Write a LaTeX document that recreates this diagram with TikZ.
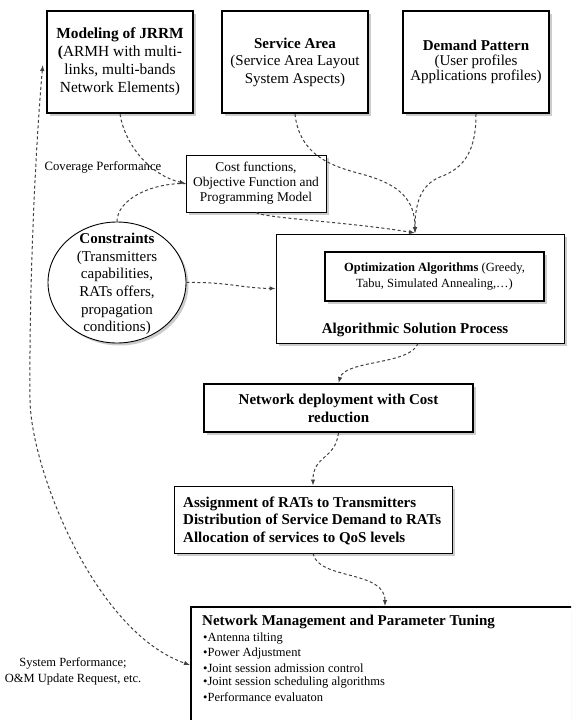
\documentclass[tikz,border=0pt]{standalone}
\usepackage{fontspec}
\setmainfont{Liberation Serif}
\usetikzlibrary{shapes.geometric,shadows,arrows.meta}
\newcommand\myfs[2]{\fontsize{#1}{#2}\selectfont}
\tikzset{
  shad/.style={drop shadow={shadow xshift=2.5pt,shadow yshift=-2.5pt,opacity=0.4}},
  thickbox/.style={draw=black, line width=2.4pt, fill=white, shad, align=center, inner sep=0pt},
  thinbox/.style={draw=black, line width=0.9pt, fill=white, shad, align=center, inner sep=0pt},
  plain/.style={inner sep=0pt, align=center},
  conn/.style={draw=black!75, line width=1pt, dash pattern=on 3pt off 2.5pt},
  arr/.style={conn, -{Latex[length=6pt,width=4.5pt]}},
  biarr/.style={conn, {Latex[length=6pt,width=4.5pt]}-{Latex[length=6pt,width=4.5pt]}},
}
\begin{document}
\begin{tikzpicture}[x=1pt,y=-1pt]
\useasboundingbox (0,0) rectangle (571,720);
\clip (0,0) rectangle (571,720);
\fill[white] (0,0) rectangle (571,720);

% top boxes
\node[thickbox, minimum width=146pt, minimum height=102pt, font=\myfs{15.4}{18}] (mod) at (120,62)
  {\textbf{Modeling of JRRM}\\\textbf{(}ARMH with multi-\\links, multi-bands\\Network Elements)};
\node[thickbox, minimum width=146pt, minimum height=102pt, font=\myfs{15}{17.5}] (sa) at (295,62)
  {\textbf{Service Area}\\(Service Area Layout\\System Aspects)};
\node[thickbox, minimum width=146pt, minimum height=102pt, font=\myfs{15}{15}] (dp) at (476,62)
  {\textbf{Demand Pattern}\\(User profiles\\Applications profiles)};

% cost functions
\node[thinbox, minimum width=140pt, minimum height=57pt, font=\myfs{13.4}{15}] (cost) at (256,183.5)
  {Cost functions,\\Objective Function and\\Programming Model};
\node[plain, font=\myfs{12.7}{14}] (cov) at (103,167) {Coverage Performance};

% constraints
\node[ellipse, draw=black, line width=0.9pt, fill=white, shad, inner sep=0pt,
      minimum width=138pt, minimum height=121pt] (con) at (117,282.5) {};
\node[plain, font=\myfs{15}{17.6}] (contxt) at (117,284)
  {\textbf{Constraints}\\(Transmitters\\capabilities,\\RATs offers,\\propagation\\conditions)};

% algorithmic
\node[thinbox, minimum width=288pt, minimum height=109pt] (alg) at (420,288.5) {};
\node[thickbox, line width=2pt, minimum width=219pt, minimum height=49pt, font=\myfs{12.5}{16}] (opt) at (434.5,276.5)
  {\textbf{Optimization Algorithms} (Greedy,\\Tabu, Simulated Annealing,…)};
\node[plain, font=\myfs{15}{17}\bfseries] (algtxt) at (415,330) {Algorithmic Solution Process};

% network deployment
\node[thickbox, line width=2pt, minimum width=269pt, minimum height=48pt, font=\myfs{15}{18}\bfseries] (nd) at (338.5,408)
  {Network deployment with Cost\\reduction};

% assignment
\node[thinbox, minimum width=278pt, minimum height=67pt] (as) at (313,519.5) {};
\node[plain, anchor=west, align=left, font=\myfs{15}{17.5}\bfseries] (astxt) at (183,520.5)
  {Assignment of RATs to Transmitters\\Distribution of Service Demand to RATs\\Allocation of services to QoS levels};

% network management
\node[thickbox, line width=2pt, minimum width=449pt, minimum height=116pt] (nm) at (415.5,665) {};
\node[plain, anchor=west, font=\myfs{15}{16}\bfseries] (nmh) at (202,622) {Network Management and Parameter Tuning};
\node[plain, anchor=west, font=\myfs{12.5}{14}] (b1) at (203,639) {\textbullet Antenna tilting};
\node[plain, anchor=west, font=\myfs{12.5}{14}] (b2) at (203,653.5) {\textbullet Power Adjustment};
\node[plain, anchor=west, font=\myfs{12.5}{14}] (b3) at (203,668) {\textbullet Joint session admission control};
\node[plain, anchor=west, font=\myfs{12.5}{14}] (b4) at (203,682.5) {\textbullet Joint session scheduling algorithms};
\node[plain, anchor=west, font=\myfs{12.5}{14}] (b5) at (203,697) {\textbullet Performance evaluaton};

\node[plain, font=\myfs{12.5}{16}] (sp) at (73,671) {System Performance;\\O\&M Update Request, etc.};

% connector points
\coordinate (algin) at (415,233);
\coordinate (nmin) at (385,606);

% connectors
\draw[arr] (mod.south) .. controls (125,145) and (150,175) .. (cost.west);
\draw[conn] (con.north) .. controls (117,200) and (150,183) .. (cost.west);
\draw[arr] (cost.south) .. controls (262,218) and (350,222) .. (algin);
\draw[arr] (sa.south) .. controls (300,160) and (340,168) .. (365,175) .. controls (400,185) and (415,200) .. (algin);
\draw[arr] (dp.south) .. controls (476,150) and (465,168) .. (440,177) .. controls (420,185) and (415,205) .. (algin);
\draw[arr] (con.east) .. controls (230,282) and (240,288) .. (alg.west);
\draw[arr] ([xshift=-2pt]alg.south) .. controls (410,365) and (345,360) .. (nd.north);
\draw[arr] (nd.south) .. controls (335,460) and (313,455) .. (as.north);
\draw[arr] (as.south) .. controls (318,580) and (385,570) .. (nmin);
\draw[biarr] ([xshift=-3pt,yshift=-3pt]mod.west) .. controls (36,140) and (29,280) .. (30,400)
  .. controls (31,470) and (95,632) .. (nm.west);
\end{tikzpicture}
\end{document}
